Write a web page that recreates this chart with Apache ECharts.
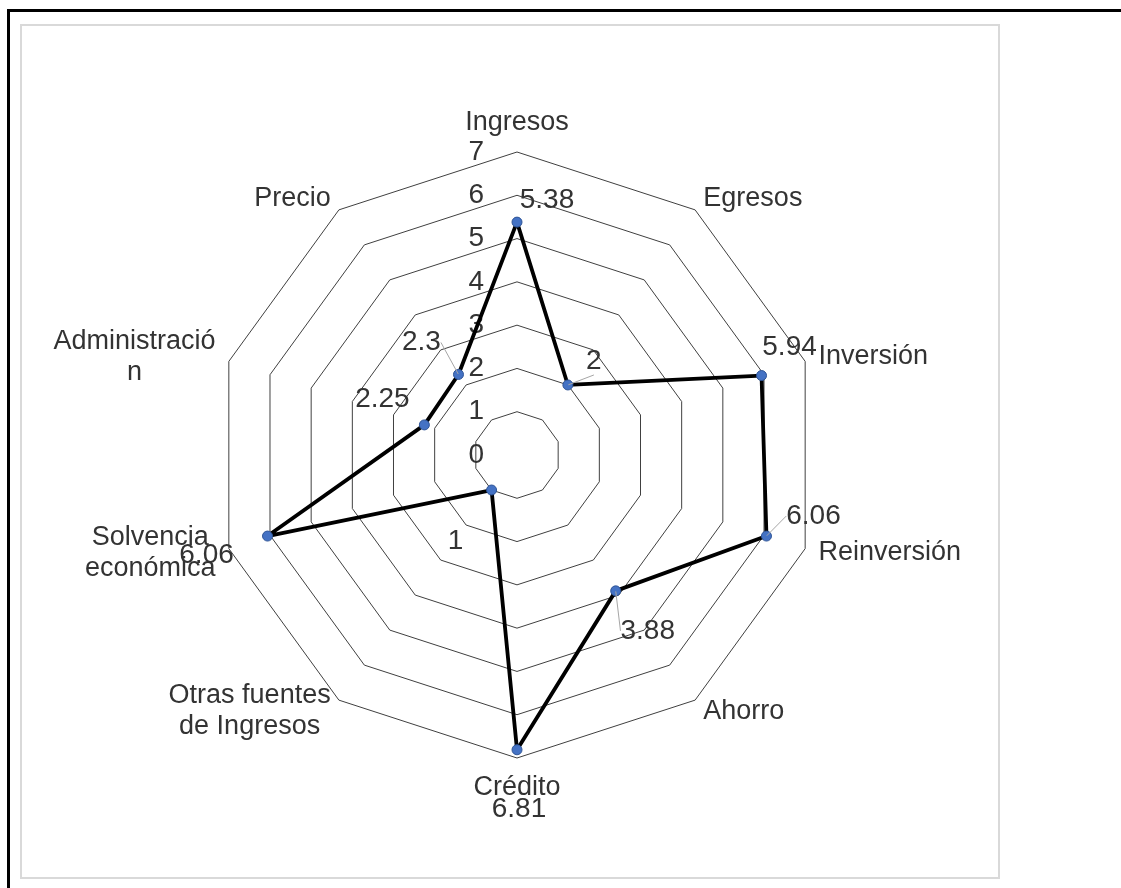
<!DOCTYPE html>
<html>
<head>
<meta charset="utf-8">
<script src="https://cdn.jsdelivr.net/npm/echarts@6/dist/echarts.min.js"></script>
<style>
html,body{margin:0;padding:0;background:#fff;}
#chart{width:1121px;height:888px;}
</style>
</head>
<body>
<div id="chart"></div>
<script>
// ---- data ----
const categories = ['Ingresos','Egresos','Inversión','Reinversión','Ahorro','Crédito','Otras fuentes\nde Ingresos','Solvencia\neconómica','Administració\nn','Precio'];
const values = [5.38, 2, 5.94, 6.06, 3.88, 6.81, 1, 6.06, 2.25, 2.3];
const axisMax = 7;
const tickCount = 7;

// ---- label placement (style only) ----
const labelShift = [[30,-22],[26,-24],[28,-28],[47,-20],[32,40],[2,60],[-36,51],[-61,19],[-42,-26],[-37,-32]];
const leaderOn = [false,true,false,true,true,false,false,false,false,true];

const FONT = "'Liberation Sans', Arial, sans-serif";
const TXT = '#333333';
const NAME_SIZE = 27;
const NUM_SIZE = 28;
const CX = 517, CY = 455, R = 303;

// radar in ECharts runs counter-clockwise: feed it in reversed order so it reads clockwise
const order = categories.map((_, i) => (categories.length - i) % categories.length);

const chart = echarts.init(document.getElementById('chart'), null, {renderer:'canvas'});

const indicators = order.map((idx, k) => {
  const ind = {name: categories[idx], max: axisMax, min: 0};
  if (k === 0) {
    ind.axisLabel = {show: true, margin: 33, fontSize: NUM_SIZE, color: TXT, fontFamily: FONT};
  }
  return ind;
});

chart.setOption({
  animation: false,
  backgroundColor: '#fff',
  graphic: [
    {type:'rect', shape:{x:21, y:25, width:978, height:853}, style:{fill:'none', stroke:'#d9d9d9', lineWidth:2}, z:-1},
    {type:'polyline', shape:{points:[[8.5,888],[8.5,10.5],[1121,10.5]]}, style:{fill:'none', stroke:'#000', lineWidth:3}, z:-1}
  ],
  radar: {
    center: [CX, CY],
    radius: R,
    shape: 'polygon',
    splitNumber: tickCount,
    startAngle: 90,
    indicator: indicators,
    nameGap: 14,
    axisName: {
      color: TXT, fontSize: NAME_SIZE, fontFamily: FONT, lineHeight: 31,
      formatter: name => name.split('\n').map(s => '{c|' + s + '}').join('\n'),
      rich: {c: {align: 'center', color: TXT, fontSize: NAME_SIZE, fontFamily: FONT, lineHeight: 31}}
    },
    axisLine: {show: false},
    axisTick: {show: false},
    axisLabel: {show: false},
    splitArea: {show: false},
    splitLine: {lineStyle: {color: '#404040', width: 1}}
  },
  polar: {center: [CX, CY], radius: R},
  angleAxis: {type:'category', data: categories, startAngle: 90, clockwise: true, boundaryGap: false, show: false},
  radiusAxis: {type:'value', min: 0, max: axisMax, show: false},
  series: [
    {
      type: 'radar',
      symbol: 'circle',
      symbolSize: 10,
      itemStyle: {color: '#4472C4', borderColor: '#2F5597', borderWidth: 1},
      lineStyle: {color: '#000', width: 3.8},
      data: [{value: order.map(i => values[i])}],
      z: 3
    },
    {
      type: 'scatter',
      coordinateSystem: 'polar',
      symbolSize: 1,
      itemStyle: {color: 'rgba(0,0,0,0)', opacity: 1},
      silent: true,
      label: {
        show: true, position: 'inside', fontSize: NUM_SIZE, color: TXT, fontFamily: FONT, opacity: 1,
        formatter: p => String(p.value[0])
      },
      labelLayout: p => ({dx: labelShift[p.dataIndex][0], dy: labelShift[p.dataIndex][1]}),
      labelLine: {show: false, lineStyle: {color: '#a6a6a6', width: 1}},
      data: values.map((v, i) => ({
        value: [v, categories[i]],
        labelLine: {show: leaderOn[i], lineStyle: {color: '#a6a6a6', width: 1}}
      })),
      z: 4
    }
  ]
});
</script>
</body>
</html>
